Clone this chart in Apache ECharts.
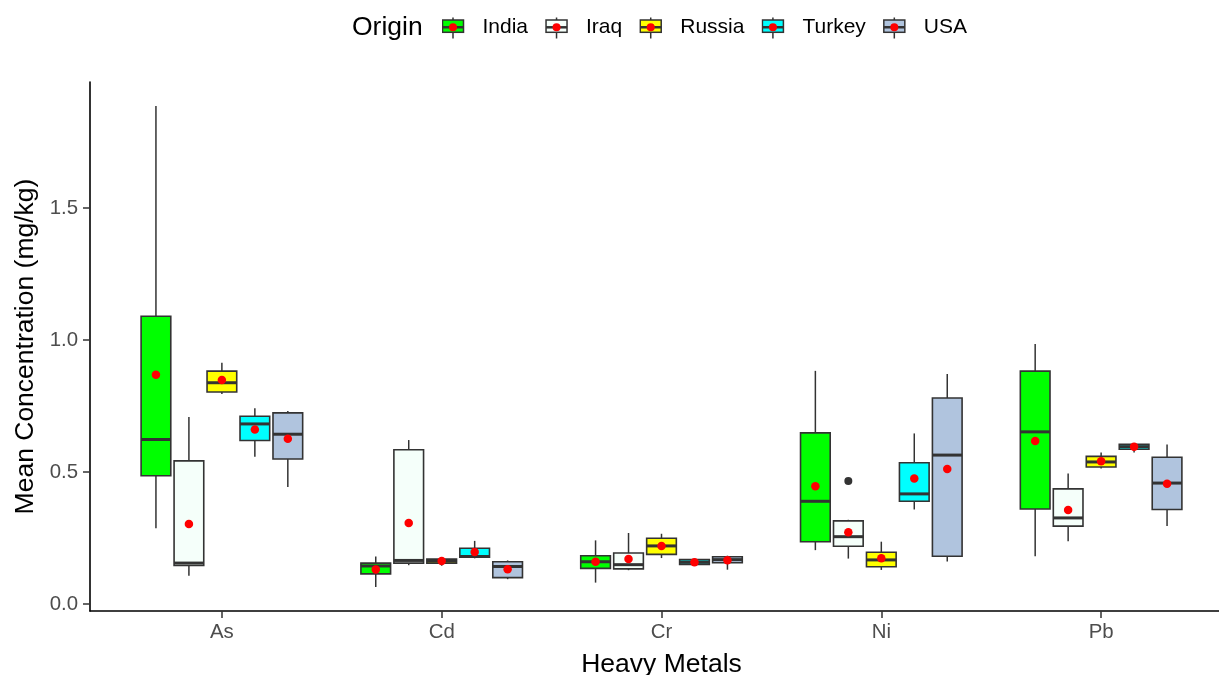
<!DOCTYPE html>
<html>
<head>
<meta charset="utf-8">
<script src="https://cdn.jsdelivr.net/npm/echarts@6/dist/echarts.min.js"></script>
<style>
  html, body { margin: 0; padding: 0; background: #fff; }
  #chart { width: 1219px; height: 675px; }
</style>
</head>
<body>
<div id="chart"></div>
<script>
// categories
const metals = ['As', 'Cd', 'Cr', 'Ni', 'Pb']
const origins = ['India', 'Iraq', 'Russia', 'Turkey', 'USA']
const yTicks = [0, 0.5, 1.0, 1.5]

// box stats per metal: [min, q1, median, q3, max]
const indiaBox = [
  [0.287, 0.486, 0.623, 1.090, 1.886],
  [0.064, 0.114, 0.144, 0.155, 0.180],
  [0.081, 0.135, 0.160, 0.183, 0.241],
  [0.204, 0.236, 0.389, 0.648, 0.883],
  [0.181, 0.360, 0.652, 0.882, 0.985]
]
const iraqBox = [
  [0.107, 0.146, 0.155, 0.542, 0.708],
  [0.147, 0.155, 0.165, 0.584, 0.621],
  [0.128, 0.133, 0.149, 0.193, 0.269],
  [0.172, 0.219, 0.255, 0.315, 0.319],
  [0.238, 0.295, 0.326, 0.436, 0.494]
]
const russiaBox = [
  [0.795, 0.803, 0.838, 0.882, 0.914],
  [0.145, 0.155, 0.163, 0.170, 0.173],
  [0.174, 0.188, 0.220, 0.249, 0.266],
  [0.129, 0.141, 0.167, 0.196, 0.236],
  [0.513, 0.519, 0.538, 0.559, 0.574]
]
const turkeyBox = [
  [0.558, 0.619, 0.682, 0.711, 0.741],
  [0.173, 0.177, 0.180, 0.211, 0.239],
  [0.150, 0.150, 0.158, 0.168, 0.168],
  [0.358, 0.389, 0.417, 0.535, 0.646],
  [0.574, 0.586, 0.596, 0.605, 0.605]
]
const usaBox = [
  [0.443, 0.549, 0.643, 0.724, 0.731],
  [0.094, 0.100, 0.142, 0.160, 0.165],
  [0.130, 0.156, 0.168, 0.179, 0.183],
  [0.161, 0.181, 0.564, 0.780, 0.871],
  [0.295, 0.358, 0.458, 0.556, 0.604]
]

// means per metal
const indiaMean = [0.868, 0.131, 0.160, 0.446, 0.617]
const iraqMean = [0.303, 0.307, 0.170, 0.272, 0.356]
const russiaMean = [0.848, 0.163, 0.220, 0.173, 0.541]
const turkeyMean = [0.661, 0.197, 0.158, 0.475, 0.596]
const usaMean = [0.626, 0.132, 0.166, 0.511, 0.455]

// outliers: [metal, origin, value]
const outliers = [['Ni', 'Iraq', 0.466]]

const boxes = [indiaBox, iraqBox, russiaBox, turkeyBox, usaBox]
const means = [indiaMean, iraqMean, russiaMean, turkeyMean, usaMean]
const fills = ['#00FF00', '#F5FFFA', '#FFFF00', '#00FFFF', '#B0C4DE']

const dodgeStep = 0.15
const boxHalf = 0.0675
const dodge = i => (i - (origins.length - 1) / 2) * dodgeStep

// legend key: small box with whisker, median and red mean dot
const keyIcon = fill => 'image://data:image/svg+xml;charset=utf-8,' + encodeURIComponent(
  '<svg xmlns="http://www.w3.org/2000/svg" width="36" height="24" viewBox="0 0 36 24">' +
  '<line x1="11.5" y1="2.5" x2="11.5" y2="23.5" stroke="#333" stroke-width="1.5"/>' +
  '<rect x="1" y="5" width="21" height="12.3" fill="' + fill + '" stroke="#333" stroke-width="1.5"/>' +
  '<line x1="1" y1="12.3" x2="22" y2="12.3" stroke="#333" stroke-width="2.5"/>' +
  '<circle cx="11.5" cy="12.3" r="4" fill="#FF0000"/>' +
  '</svg>')

function renderBox(params, api) {
  const x = api.value(0)
  const [xl, yq3] = api.coord([x - boxHalf, api.value(4)])
  const [xr, yq1] = api.coord([x + boxHalf, api.value(2)])
  const [xc, ymin] = api.coord([x, api.value(1)])
  const ymed = api.coord([x, api.value(3)])[1]
  const ymax = api.coord([x, api.value(5)])[1]
  const line = { stroke: '#333333', lineWidth: 1.5 }
  return {
    type: 'group',
    children: [
      { type: 'line', shape: { x1: xc, y1: ymax, x2: xc, y2: yq3 }, style: line },
      { type: 'line', shape: { x1: xc, y1: yq1, x2: xc, y2: ymin }, style: line },
      {
        type: 'rect',
        shape: { x: xl, y: yq3, width: xr - xl, height: yq1 - yq3 },
        style: { fill: api.visual('color'), stroke: '#333333', lineWidth: 1.6 }
      },
      { type: 'line', shape: { x1: xl, y1: ymed, x2: xr, y2: ymed }, style: { stroke: '#333333', lineWidth: 3 } }
    ]
  }
}

const boxSeries = origins.map((name, i) => ({
  name: name,
  type: 'custom',
  renderItem: renderBox,
  itemStyle: { color: fills[i] },
  encode: { x: 0, y: [1, 2, 3, 4, 5] },
  data: boxes[i].map((s, j) => [j + dodge(i)].concat(s))
}))

const meanData = []
origins.forEach((o, i) => {
  means[i].forEach((v, j) => meanData.push([j + dodge(i), v]))
})

const outlierData = outliers.map(([m, o, v]) => [metals.indexOf(m) + dodge(origins.indexOf(o)), v])

const myChart = echarts.init(document.getElementById('chart'))
const option = {
  animation: false,
  textStyle: { fontFamily: 'Liberation Sans' },
  title: {
    text: 'Origin',
    left: 352,
    top: 14,
    padding: 0,
    textStyle: { fontSize: 26.5, fontWeight: 'normal', color: '#000' }
  },
  legend: {
    data: origins.map((name, i) => ({ name: name, icon: keyIcon(fills[i]) })),
    left: 441.5,
    top: 15,
    padding: 0,
    itemWidth: 36,
    itemHeight: 24,
    itemGap: 17,
    textStyle: { fontSize: 21, color: '#000' }
  },
  grid: { left: 90, top: 82, width: 1143, height: 529, outerBoundsMode: 'none', containLabel: false },
  xAxis: {
    type: 'value',
    min: -0.6,
    max: 4.6,
    name: 'Heavy Metals',
    nameLocation: 'middle',
    nameGap: 40,
    nameTextStyle: { fontSize: 26.5, color: '#000' },
    axisLine: { onZero: false, lineStyle: { color: '#000', width: 1.6 } },
    axisTick: { length: 7, lineStyle: { color: '#333', width: 1.5 }, customValues: metals.map((m, j) => j) },
    axisLabel: {
      customValues: metals.map((m, j) => j),
      formatter: v => metals[Math.round(v)],
      fontSize: 20.4,
      color: '#4D4D4D',
      margin: 11
    },
    splitLine: { show: false }
  },
  yAxis: {
    type: 'value',
    min: -0.0265,
    max: 1.977,
    name: 'Mean Concentration (mg/kg)',
    nameLocation: 'middle',
    nameGap: 49,
    nameTextStyle: { fontSize: 26.5, color: '#000' },
    axisLine: { show: true, onZero: false, lineStyle: { color: '#000', width: 1.6 } },
    axisTick: { show: true, length: 7, lineStyle: { color: '#333', width: 1.5 }, customValues: yTicks },
    axisLabel: {
      customValues: yTicks,
      formatter: v => v.toFixed(1),
      fontSize: 20.4,
      color: '#4D4D4D',
      margin: 12
    },
    splitLine: { show: false }
  },
  series: boxSeries.concat([
    {
      name: 'mean',
      type: 'scatter',
      z: 5,
      symbol: 'circle',
      symbolSize: 8.5,
      itemStyle: { color: '#FF0000', opacity: 1 },
      data: meanData
    },
    {
      name: 'outlier',
      type: 'scatter',
      z: 5,
      symbol: 'circle',
      symbolSize: 8,
      itemStyle: { color: '#333333', opacity: 1 },
      data: outlierData
    }
  ])
}
option && myChart.setOption(option)
</script>
</body>
</html>
